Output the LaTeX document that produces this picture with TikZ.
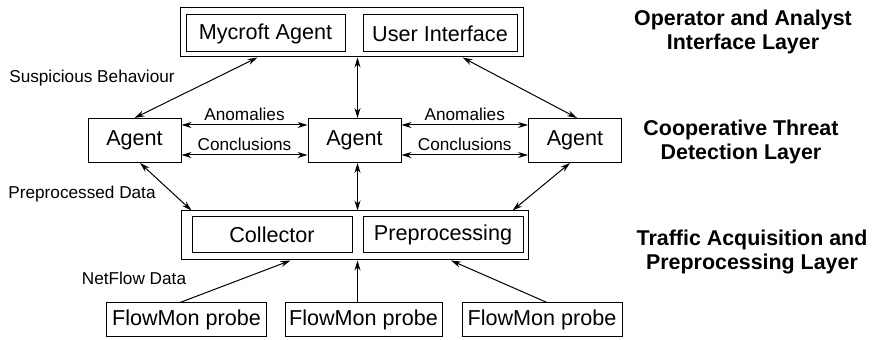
\documentclass[tikz,border=0pt]{standalone}
\usepackage{fontspec}
\setmainfont{Liberation Sans}
\usepackage{tikz}
\usetikzlibrary{arrows.meta}
\tikzset{blk/.style={draw,line width=0.5pt,inner sep=0pt,minimum height=18.5pt,font=\fontsize{10.8}{13}\selectfont},
  outer/.style={draw,line width=0.5pt,inner sep=0pt},
  lbl/.style={font=\fontsize{8.6}{10}\selectfont,inner sep=2pt},
  layer/.style={font=\bfseries\fontsize{10.7}{12}\selectfont,align=center}}

\begin{document}
\begin{tikzpicture}[x=0.5pt,y=-0.5pt,>={Stealth[length=5pt,width=3pt]},line width=0.5pt]
    \useasboundingbox (0,0) rectangle (882,340);
    \coordinate (mid) at (357.5,0);

    \node[outer,minimum width=171.5pt,minimum height=24.5pt] (top) at (351.5,32.5) {};
    \node[blk,minimum width=79.5pt] (myc) at (265.5,33.5) {Mycroft Agent};
    \node[blk,minimum width=77pt] (ui) at (440,33.5) {User Interface};

    \node[blk,minimum width=46.5pt,minimum height=22pt] (ag1) at (134.5,140.5) {Agent};
    \node[blk,minimum width=46.5pt,minimum height=22pt] (ag2) at (354.5,140.5) {Agent};
    \node[blk,minimum width=46.5pt,minimum height=22pt] (ag3) at (575,140.5) {Agent};

    \node[outer,minimum width=173.5pt,minimum height=24.5pt] (bot) at (354.5,235.5) {};
    \node[blk,minimum width=80pt,minimum height=18pt] (coll) at (272,235) {Collector};
    \node[blk,minimum width=80pt,minimum height=18pt] (prep) at (443,235) {Preprocessing};

    \node[blk,minimum width=80pt,minimum height=17pt] (p1) at (186.5,320) {FlowMon probe};
    \node[blk,minimum width=78.5pt,minimum height=17pt] (p2) at (363.5,320) {FlowMon probe};
    \node[blk,minimum width=80pt,minimum height=17pt] (p3) at (542,320) {FlowMon probe};

    \node[layer] (l1) at (743,32) {Operator and Analyst\\Interface Layer};
    \node[layer] (l2) at (741,142) {Cooperative Threat\\Detection Layer};
    \node[layer] (l3) at (752,252) {Traffic Acquisition and\\Preprocessing Layer};

    \node[lbl] (sb) at (92,78) {Suspicious Behaviour};
    \node[lbl] (pd) at (82,194) {Preprocessed Data};
    \node[lbl] (nd) at (134,278) {NetFlow Data};

    \draw [<->] (ag1.north) to ([xshift=39pt]top.south west);
    \draw [<->] (ag2.north -| mid) to (top.south -| mid);
    \draw [<->] ([xshift=1pt]ag3.north) to ([xshift=-30.5pt]top.south east);
    \draw [<->] ([yshift=7.75pt]ag1.east) to node[lbl,above]{Anomalies} ([yshift=7.75pt]ag2.west);
    \draw [<->] ([yshift=-7.25pt]ag1.east) to node[lbl,above]{Conclusions} ([yshift=-7.25pt]ag2.west);
    \draw [<->] ([yshift=7.75pt]ag2.east) to node[lbl,above]{Anomalies} ([yshift=7.75pt]ag3.west);
    \draw [<->] ([yshift=-7.25pt]ag2.east) to node[lbl,above]{Conclusions} ([yshift=-7.25pt]ag3.west);
    \draw [<->] ([xshift=2.75pt]ag1.south) to ([xshift=5.5pt]bot.north west);
    \draw [<->] (ag2.south -| mid) to (bot.north -| mid);
    \draw [<->] ([xshift=-2.5pt]ag3.south) to ([xshift=-8pt]bot.north east);
    \draw [->] ([xshift=-3.25pt]p1.north) to ([xshift=-32pt]bot.south);
    \draw [->] (p2.north -| mid) to (bot.south -| mid);
    \draw [->] ([xshift=2.5pt]p3.north) to ([xshift=48.25pt]bot.south);
\end{tikzpicture}
\end{document}
